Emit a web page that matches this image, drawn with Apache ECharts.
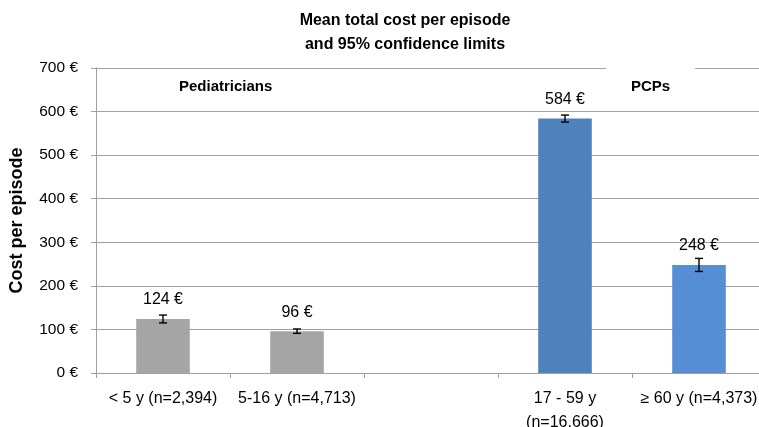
<!DOCTYPE html>
<html>
<head>
<meta charset="utf-8">
<script src="https://cdn.jsdelivr.net/npm/echarts@6/dist/echarts.min.js"></script>
<style>html,body{margin:0;padding:0;background:#fff;}#c{width:759px;height:427px;}</style>
</head>
<body>
<div id="c"></div>
<script>
const categories = ['< 5 y (n=2,394)', '5-16 y (n=4,713)', '', '17 - 59 y\n(n=16,666)', '\u2265 60 y (n=4,373)'];
const meanCost = [124, 96, null, 584, 248];
const lowerLimit = [115, 91, null, 576, 233];
const upperLimit = [133, 101, null, 592, 263];
const yTicks = [0, 100, 200, 300, 400, 500, 600, 700];

const barColors = ['#A5A5A5', '#A5A5A5', '#A5A5A5', '#4F81BD', '#558ED5'];
const font = 'Liberation Sans, Arial, sans-serif';

const chart = echarts.init(document.getElementById('c'));
const errData = [];
categories.forEach((c, i) => {
  if (meanCost[i] != null) errData.push([i, lowerLimit[i], upperLimit[i], meanCost[i]]);
});

chart.setOption({
  animation: false,
  textStyle: { fontFamily: font },
  title: {
    text: 'Mean total cost per episode\nand 95% confidence limits',
    left: 400, top: 4, textAlign: 'center',
    textStyle: { fontFamily: font, fontSize: 16, fontWeight: 'bold', color: '#000', lineHeight: 24 }
  },
  grid: { left: 96, right: -7, top: 68, bottom: 54, containLabel: false, outerBoundsMode: 'none' },
  xAxis: {
    type: 'category',
    data: categories,
    axisLine: { show: true, lineStyle: { color: '#A0A0A0', width: 1 } },
    axisTick: { show: true, interval: 0, length: 5, lineStyle: { color: '#A0A0A0' } },
    axisLabel: { interval: 0, fontSize: 16, color: '#000', margin: 14, lineHeight: 24, fontFamily: font },
    splitLine: { show: false }
  },
  yAxis: {
    type: 'value',
    min: yTicks[0], max: yTicks[yTicks.length - 1], interval: 100,
    name: 'Cost per episode',
    nameLocation: 'middle', nameGap: 70,
    nameTextStyle: { fontSize: 18, fontWeight: 'bold', color: '#000', fontFamily: font, padding: [0, 0, 0, 0] },
    axisLine: { show: true, lineStyle: { color: '#A0A0A0', width: 1 } },
    axisTick: { show: true, length: 5, lineStyle: { color: '#A0A0A0' } },
    axisLabel: { formatter: '{value} \u20ac', fontSize: 15.5, color: '#000', margin: 18, fontFamily: font },
    splitLine: { show: true, lineStyle: { color: '#A0A0A0', width: 1 } }
  },
  series: [
    {
      type: 'bar',
      barWidth: '40%',
      data: meanCost.map((v, i) => ({ value: v == null ? '-' : v, itemStyle: { color: barColors[i] } })),
      label: {
        show: true, position: 'top', distance: 11,
        fontSize: 16, color: '#000', fontFamily: font,
        formatter: p => p.value + ' \u20ac'
      },
      z: 2
    },
    {
      type: 'custom',
      data: errData,
      encode: { x: 0, y: [1, 2] },
      z: 5,
      renderItem: function (params, api) {
        const lo = api.coord([api.value(0), api.value(1)]);
        const hi = api.coord([api.value(0), api.value(2)]);
        const hw = 4;
        const st = { stroke: '#000', lineWidth: 1.4 };
        return {
          type: 'group',
          children: [
            { type: 'line', shape: { x1: lo[0], y1: lo[1], x2: hi[0], y2: hi[1] }, style: st },
            { type: 'line', shape: { x1: lo[0] - hw, y1: lo[1], x2: lo[0] + hw, y2: lo[1] }, style: st },
            { type: 'line', shape: { x1: hi[0] - hw, y1: hi[1], x2: hi[0] + hw, y2: hi[1] }, style: st }
          ]
        };
      }
    }
  ],
  graphic: [
    {
      type: 'text', left: 179, top: 79, z: 10,
      style: { text: 'Pediatricians', font: 'bold 15px ' + font, fill: '#000' }
    },
    {
      type: 'text', left: 606, top: 67, z: 10,
      style: {
        text: 'PCPs', font: 'bold 15px ' + font, fill: '#000',
        backgroundColor: '#fff', padding: [12, 25, 11, 25]
      }
    }
  ]
});
</script>
</body>
</html>
